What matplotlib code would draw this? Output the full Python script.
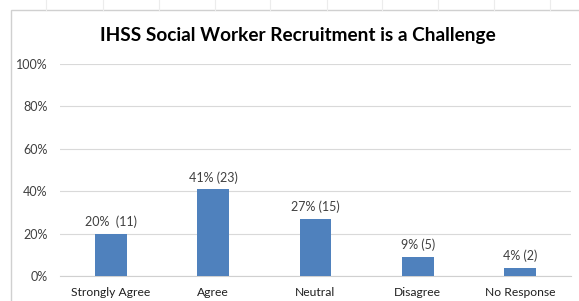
import matplotlib
matplotlib.use('Agg')
import matplotlib.pyplot as plt
from matplotlib.lines import Line2D
from matplotlib.patches import Rectangle

# chart data
categories = ['Strongly Agree', 'Agree', 'Neutral', 'Disagree', 'No Response']
shares = [0.20, 0.41, 0.27, 0.09, 0.04]
bar_labels = ['20%  (11)', '41% (23)', '27% (15)', '9% (5)', '4% (2)']
y_ticks = [0, 0.2, 0.4, 0.6, 0.8, 1.0]
y_tick_labels = ['0%', '20%', '40%', '60%', '80%', '100%']

plt.rcParams['font.family'] = ['Lato', 'DejaVu Sans']

fig = plt.figure(figsize=(5.79, 3.01), dpi=100)

# outer chart frame (spreadsheet style)
fig.patches.append(Rectangle((11 / 579, -0.1), 1.2, 1 - 10 / 301 + 0.1,
                             transform=fig.transFigure, fill=False,
                             edgecolor='#d0d0d0', linewidth=1))
# faint column lines above the frame
for px in [46, 103, 159, 215, 270, 327, 382, 438, 494, 550]:
    fig.lines.append(Line2D([px / 579, px / 579], [1 - 10 / 301, 1.0],
                            transform=fig.transFigure, color='#ececec', linewidth=0.8))

ax = fig.add_axes([60 / 579, 1 - 276 / 301, 511 / 579, 212 / 301])
x = range(len(categories))
bars = ax.bar(x, shares, width=0.31, color='#4f81bd', zorder=3)

for b, lab in zip(bars, bar_labels):
    ax.annotate(lab, (b.get_x() + b.get_width() / 2, b.get_height()),
                xytext=(0, 4), textcoords='offset points',
                ha='center', va='bottom', fontsize=9, color='#404040')

ax.set_ylim(0, 1.0)
ax.set_xlim(-0.5, len(categories) - 0.5)
ax.set_yticks(y_ticks)
ax.set_yticklabels(y_tick_labels)
ax.set_xticks(list(x))
ax.set_xticklabels(categories)
ax.tick_params(axis='y', length=0, pad=9, labelsize=9, labelcolor='#404040')
ax.tick_params(axis='x', length=0, pad=8, labelsize=8.7, labelcolor='#202020')
ax.grid(axis='y', color='#d9d9d9', linewidth=0.8, zorder=0)
for s in ['top', 'right', 'left']:
    ax.spines[s].set_visible(False)
ax.spines['bottom'].set_color('#d0d0d0')
ax.spines['bottom'].set_linewidth(0.8)

fig.text(298 / 579, 1 - 35 / 301, 'IHSS Social Worker Recruitment is a Challenge',
         ha='center', va='center', fontsize=13.7, fontweight='bold', color='#000000')

fig.savefig('out.png', dpi=100)
